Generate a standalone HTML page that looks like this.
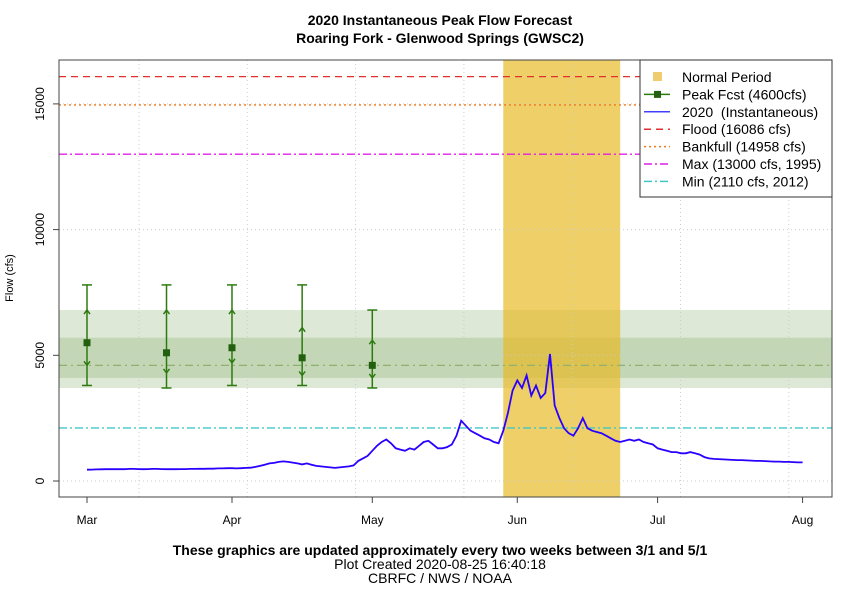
<!DOCTYPE html>
<html><head><meta charset="utf-8"><style>
body{margin:0;background:#fff;}
svg text{font-family:"Liberation Sans",sans-serif;}
</style></head><body>
<svg id="chart" width="862" height="600" viewBox="0 0 862 600" xmlns="http://www.w3.org/2000/svg">
<text x="440" y="25" text-anchor="middle" font-size="14" font-weight="bold">2020 Instantaneous Peak Flow Forecast</text>
<text x="440" y="43" text-anchor="middle" font-size="14" font-weight="bold">Roaring Fork - Glenwood Springs (GWSC2)</text>
<g id="plot"></g>
<text transform="translate(13,278) rotate(-90)" text-anchor="middle" font-size="11">Flow (cfs)</text>
<text x="440" y="555" text-anchor="middle" font-size="14" font-weight="bold">These graphics are updated approximately every two weeks between 3/1 and 5/1</text>
<text x="440" y="569" text-anchor="middle" font-size="14">Plot Created 2020-08-25 16:40:18</text>
<text x="440" y="583" text-anchor="middle" font-size="14">CBRFC / NWS / NOAA</text>
</svg>
<script>
const monthLabels=["Mar","Apr","May","Jun","Jul","Aug"];
const monthDays=[0,31,61,92,122,153];
const yTicks=[0,5000,10000,15000];
const flow=[450,455,460,465,470,470,475,470,470,480,
480,475,470,475,480,480,475,470,470,470,
475,475,480,480,485,485,490,490,500,500,
510,510,500,510,520,530,560,600,650,700,
720,760,780,760,730,700,660,700,650,600,
580,560,540,520,540,560,580,620,800,900,
1000,1200,1400,1550,1650,1500,1300,1250,1200,1300,
1250,1400,1550,1600,1450,1300,1300,1350,1450,1800,
2400,2200,2000,1900,1800,1700,1650,1550,1500,2000,
2700,3600,4000,3700,4200,3400,3800,3300,3500,5050,
3000,2500,2100,1900,1800,2100,2500,2100,2000,1950,
1900,1800,1700,1600,1550,1600,1650,1600,1650,1550,
1500,1450,1300,1250,1200,1150,1150,1100,1100,1150,
1100,1050,950,900,880,870,860,850,840,830,
830,820,810,800,800,790,780,770,770,760,
760,750,740,740];
const fcstDays=[0,17,31,46,61];
const fcstValues=[5500,5100,5300,4900,4600];
const fcstHigh=[7800,7800,7800,7800,6800];
const fcstLow=[3800,3700,3800,3800,3700];
const fcstUp=[6800,6800,6800,6100,5600];
const fcstDown=[4600,4300,4700,4200,4100];
const normalPeriod=[89,114];
const outerBand=[3700,6800];
const innerBand=[4100,5700];
const peakFcst=4600;
const refLevels=[16086,14958,13000,2110];
const legendLabels=["Normal Period","Peak Fcst (4600cfs)","2020\u00a0\u00a0(Instantaneous)","Flood (16086 cfs)","Bankfull (14958 cfs)","Max (13000 cfs, 1995)","Min (2110 cfs, 2012)"];

const L=59,R=832,T=60,B=497;
const X=d=>87+d*4.677;
const Y=v=>481-v*0.02514;
const ns="http://www.w3.org/2000/svg";
const g=document.getElementById('plot');
function mk(tag,a,parent){const e=document.createElementNS(ns,tag);for(const k in a)e.setAttribute(k,a[k]);(parent||g).appendChild(e);return e;}

let e;
e=mk('rect',{x:L,y:Y(outerBand[1]),width:R-L,height:Y(outerBand[0])-Y(outerBand[1]),fill:'#dde8d6'});


e=mk('rect',{x:L,y:Y(innerBand[1]),width:R-L,height:Y(innerBand[0])-Y(innerBand[1]),fill:'#c3d7b6'});


e=mk('rect',{x:X(normalPeriod[0]),y:T,width:X(normalPeriod[1])-X(normalPeriod[0]),height:B-T,fill:'#e8b820',opacity:0.68});


for(let i=0;i<8;i++){const x=139+i*108.3;if(x>R)break;
 e=mk('line',{x1:x,x2:x,y1:T,y2:B,stroke:'#ccc','stroke-dasharray':'1 3'});
 
 }
yTicks.forEach(v=>{e=mk('line',{x1:L,x2:R,y1:Y(v),y2:Y(v),stroke:'#ccc','stroke-dasharray':'1 3'});
 
 });
e=mk('line',{x1:L,x2:R,y1:Y(peakFcst),y2:Y(peakFcst),stroke:'#8fb070','stroke-width':1.3,'stroke-dasharray':'8 4 2 4'});


const refStyles=[['#e03030','7 5'],['#f07818','2 3'],['#e020e0','8 3 2 3'],['#40c8c8','8 3 2 3']];
const refNames=['flood-line','bankfull-line','max-line','min-line'];
refLevels.forEach((v,i)=>{e=mk('line',{x1:L,x2:R,y1:Y(v),y2:Y(v),stroke:refStyles[i][0],'stroke-width':1.3,'stroke-dasharray':refStyles[i][1]});
 
 });
e=mk('polyline',{points:flow.map((v,i)=>X(i).toFixed(1)+','+Y(v).toFixed(1)).join(' '),fill:'none',stroke:'#2a00ff','stroke-width':1.8});


fcstDays.forEach((d,i)=>{const x=X(d),c='#2e7a10';
 const gg=mk('g',{stroke:c,'stroke-width':1.5,fill:'none'});
 
 
 mk('line',{x1:x,x2:x,y1:Y(fcstHigh[i]),y2:Y(fcstLow[i])},gg);
 mk('line',{x1:x-5,x2:x+5,y1:Y(fcstHigh[i]),y2:Y(fcstHigh[i])},gg);
 mk('line',{x1:x-5,x2:x+5,y1:Y(fcstLow[i]),y2:Y(fcstLow[i])},gg);
 const u=Y(fcstUp[i]),dn=Y(fcstDown[i]);
 mk('polyline',{points:`${x-3},${u+4} ${x},${u} ${x+3},${u+4}`},gg);
 mk('polyline',{points:`${x-3},${dn-4} ${x},${dn} ${x+3},${dn-4}`},gg);
 e=mk('rect',{x:x-3.5,y:Y(fcstValues[i])-3.5,width:7,height:7,fill:'#226010'});
 
 });
e=mk('rect',{x:L,y:T,width:R-L,height:B-T,fill:'none',stroke:'#444','stroke-width':1});


monthDays.forEach((d,i)=>{const x=X(d);
 mk('line',{x1:x,x2:x,y1:B,y2:B+6,stroke:'#444'});
 e=mk('text',{x:x,y:B+27,'text-anchor':'middle','font-size':12});
 e.textContent=monthLabels[i];
 
 });
yTicks.forEach(v=>{const y=Y(v);
 mk('line',{x1:L-6,x2:L,y1:y,y2:y,stroke:'#444'});
 e=mk('text',{transform:`translate(44,${y}) rotate(-90)`,'text-anchor':'middle','font-size':12});
 e.textContent=v;
 
 });
// legend
const lg=mk('g',{});


mk('rect',{x:640,y:60,width:192,height:137,fill:'#fff',stroke:'#333'},lg);
const lstyles=[null,['#2e7a10',''],['#4040ff',''],['#e03030','7 5'],['#f07818','2 3'],['#e020e0','8 3 2 3'],['#40c8c8','8 3 2 3']];
legendLabels.forEach((t,i)=>{const y=77+i*17.4;
 if(i===0){mk('rect',{x:653,y:y-5,width:9,height:9,fill:'#f0cc70'},lg);}
 else{mk('line',{x1:644,x2:670,y1:y,y2:y,stroke:lstyles[i][0],'stroke-width':1.5,'stroke-dasharray':lstyles[i][1]},lg);
  if(i===1)mk('rect',{x:654,y:y-3.5,width:7,height:7,fill:'#226010'},lg);}
 e=mk('text',{x:682,y:y+5,'font-size':14},lg);
 e.textContent=t;
 
 });
</script>
</body></html>
